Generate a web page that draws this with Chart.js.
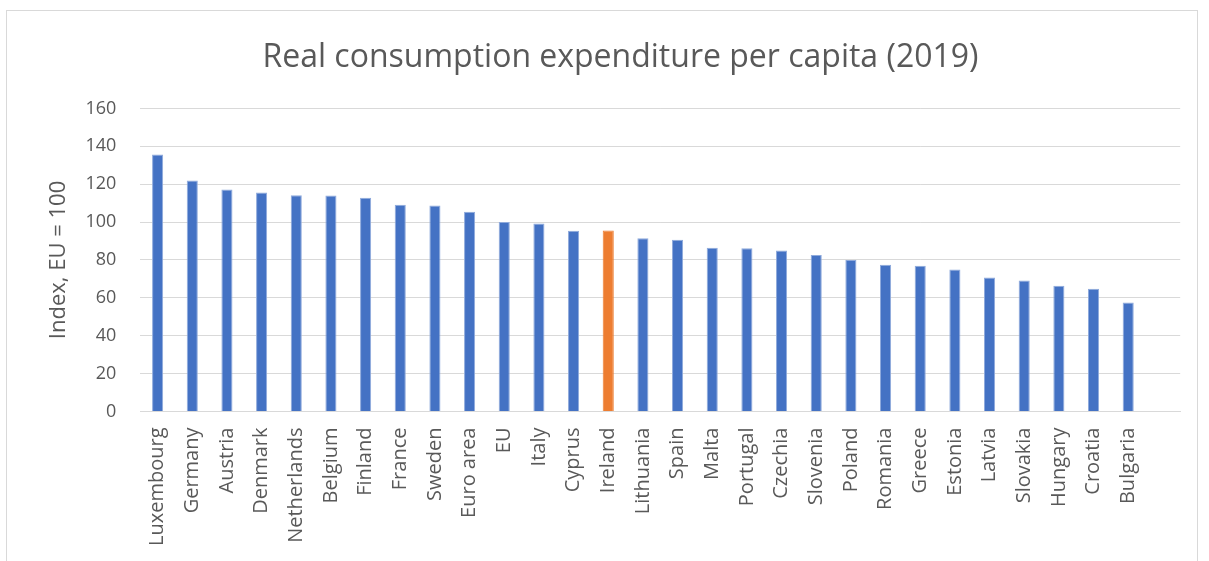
<!DOCTYPE html>
<html>
<head>
<meta charset="utf-8">
<script src="https://cdn.jsdelivr.net/npm/chart.js@4/dist/chart.umd.min.js"></script>
<style>
  body { margin: 0; background: #fff; }
  #box { position: absolute; left: 6px; top: 10px; width: 1192px; height: 560px; border: 1px solid #d9d9d9; box-sizing: border-box; }
  #wrap { position: absolute; left: 0; top: 0; width: 1196px; height: 551px; }
</style>
</head>
<body>
<div id="box"><div id="wrap"><canvas id="myChart"></canvas></div></div>
<script>
let countries = ['Luxembourg', 'Germany', 'Austria', 'Denmark', 'Netherlands', 'Belgium', 'Finland', 'France', 'Sweden', 'Euro area', 'EU', 'Italy', 'Cyprus', 'Ireland', 'Lithuania', 'Spain', 'Malta', 'Portugal', 'Czechia', 'Slovenia', 'Poland', 'Romania', 'Greece', 'Estonia', 'Latvia', 'Slovakia', 'Hungary', 'Croatia', 'Bulgaria', ''];
let values = [135.6, 122, 117.2, 115.6, 114.2, 114, 112.8, 109.2, 108.7, 105.5, 100, 99.3, 95.4, 95.6, 91.5, 90.7, 86.4, 86.2, 85, 82.6, 80, 77.5, 77, 74.9, 70.8, 69.2, 66.4, 64.8, 57.6, null];
let yTicks = [0, 20, 40, 60, 80, 100, 120, 140, 160];
let highlight = 'Ireland';

let colors = countries.map(c => c === highlight ? '#ED7D31' : '#4472C4');
let grey = '#595959';

let ctx = document.getElementById('myChart').getContext('2d');
let chart = new Chart(ctx, {
    type: 'bar',
    data: {
        labels: countries,
        datasets: [{
            data: values,
            backgroundColor: colors,
            borderColor: colors.map(c => c === '#4472C4' ? '#8FAADC' : '#ED7D31'),
            borderWidth: { left: 1, right: 1, top: 1, bottom: 0 },
            barPercentage: 0.32,
            categoryPercentage: 1
        }]
    },
    options: {
        responsive: true,
        maintainAspectRatio: false,
        animation: false,
        layout: { padding: { left: 39, right: 8, top: 28, bottom: 0 } },
        plugins: {
            legend: { display: false },
            tooltip: { enabled: false },
            title: {
                display: true,
                text: 'Real consumption expenditure per capita (2019)',
                color: grey,
                font: { family: 'Open Sans', size: 32, weight: 'normal' },
                padding: { top: 0, bottom: 31 }
            }
        },
        scales: {
            x: {
                grid: { display: false, drawTicks: false },
                border: { color: '#d9d9d9' },
                ticks: {
                    color: grey,
                    font: { family: 'Open Sans', size: 20 },
                    minRotation: 90,
                    maxRotation: 90,
                    autoSkip: false,
                    padding: 16
                }
            },
            y: {
                min: 0,
                max: 160,
                afterBuildTicks: axis => { axis.ticks = yTicks.map(v => ({ value: v })); },
                grid: { color: '#d9d9d9', drawTicks: false },
                border: { display: false },
                ticks: {
                    color: grey,
                    font: { family: 'Open Sans', size: 18 },
                    padding: 24
                },
                title: {
                    display: true,
                    text: 'Index, EU = 100',
                    color: grey,
                    font: { family: 'Open Sans', size: 22 },
                    padding: { top: 0, bottom: -11 }
                }
            }
        }
    }
});
</script>
</body>
</html>
